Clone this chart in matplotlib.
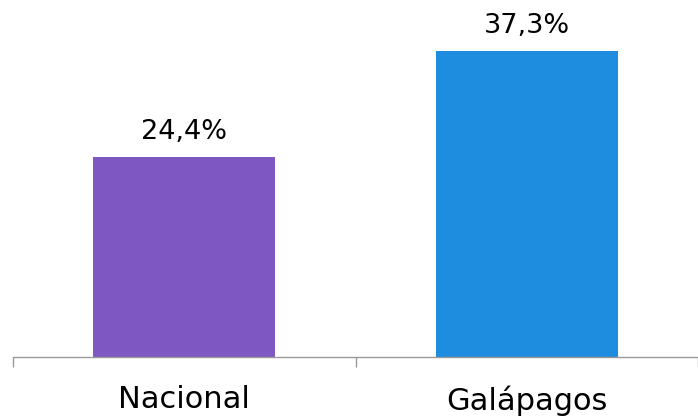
import matplotlib
matplotlib.use("Agg")
import matplotlib.pyplot as plt

categories = ["Nacional", "Galápagos"]
values = [24.4, 37.3]
labels = ["24,4%", "37,3%"]
colors = ["#7E57C2", "#1F8DDF"]

fig = plt.figure(figsize=(6.98, 4.19), dpi=100)
ax = fig.add_axes([13 / 698, 1 - 357 / 419, 685 / 698, 357 / 419])

x = list(range(len(categories)))
bars = ax.bar(x, values, width=0.53, color=colors)

for b, lab in zip(bars, labels):
    ax.annotate(lab, (b.get_x() + b.get_width() / 2, b.get_height()),
                xytext=(0, 13), textcoords="offset points",
                ha="center", va="baseline", fontsize=19.5, color="#000000")

ax.set_xlim(-0.5, len(categories) - 0.5)
ax.set_ylim(0, 43.5)

ax.set_xticks(x)
ax.set_xticklabels(categories, fontsize=22, color="#000000")
ax.tick_params(axis="x", which="major", length=0, pad=20.5)
ax.set_xticks([-0.5 + i for i in range(len(categories) + 1)], minor=True)
ax.tick_params(axis="x", which="minor", length=7.5, width=1, color="#999999", direction="out")
ax.set_yticks([])

for s in ["top", "right", "left"]:
    ax.spines[s].set_visible(False)
ax.spines["bottom"].set_color("#999999")
ax.spines["bottom"].set_linewidth(1)

fig.savefig("out.png", dpi=100)
